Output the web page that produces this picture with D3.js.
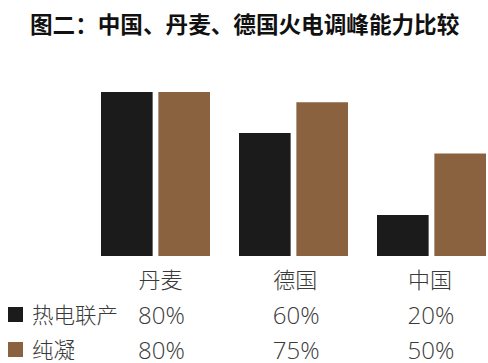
<!DOCTYPE html>
<html><head><meta charset="utf-8">
<script src="https://cdn.jsdelivr.net/npm/d3@7"></script>
<style>body{margin:0;background:#fff}svg{display:block}</style>
</head><body><svg id="c" width="488" height="363"></svg>
<script>
const categories = ["丹麦", "德国", "中国"];
const seriesNames = ["热电联产", "纯凝"];
const chp = [80, 60, 20];
const condensing = [80, 75, 50];
const valueLabels = [["80%", "60%", "20%"], ["80%", "75%", "50%"]];
const titleText = "图二：中国、丹麦、德国火电调峰能力比较";

const colors = ["#1b1b1b", "#8a6240"];
const svg = d3.select("#c");
const cjk = "'Noto Sans CJK SC', 'Noto Sans', sans-serif";

svg.append("text").attr("x", 30).attr("y", 33)
  .attr("font-family", cjk).attr("font-weight", 700).attr("font-size", 22.6)
  .attr("fill", "#111").text(titleText);

const x0 = d3.scaleBand().domain(categories).range([93, 507]).paddingInner(0.0).paddingOuter(0);
const x1 = d3.scaleBand().domain(seriesNames).range([8, 117]).paddingInner(0.1);
const y = d3.scaleLinear().domain([0, 100]).range([256, 51]);
const xCol = d3.scalePoint().domain(categories).range([161.5, 431]);

const series = [chp, condensing];
const g = svg.append("g");
categories.forEach((c, i) => {
  seriesNames.forEach((s, j) => {
    g.append("rect")
      .attr("x", x0(c) + x1(s))
      .attr("y", y(series[j][i]))
      .attr("width", x1.bandwidth())
      .attr("height", y(0) - y(series[j][i]))
      .attr("fill", colors[j]);
  });
});

// category labels
categories.forEach((c) => {
  svg.append("text").attr("x", xCol(c) - 1).attr("y", 288)
    .attr("text-anchor", "middle").attr("font-family", cjk).attr("font-weight", 300)
    .attr("font-size", 22).attr("fill", "#3a3a3a").text(c);
});

// legend-table rows
const rowY = [315, 350];
seriesNames.forEach((s, j) => {
  svg.append("rect").attr("x", 8).attr("y", rowY[j] - 8).attr("width", 15).attr("height", 15).attr("fill", colors[j]);
  svg.append("text").attr("x", 32).attr("y", rowY[j] + 8)
    .attr("font-family", cjk).attr("font-weight", 300).attr("font-size", 21.5)
    .attr("fill", "#3a3a3a").text(s);
  categories.forEach((c, i) => {
    svg.append("text").attr("x", xCol(c)).attr("y", rowY[j] + 9)
      .attr("text-anchor", "middle").attr("font-family", "'Open Sans', Roboto, sans-serif").attr("font-weight", 300)
      .attr("font-size", 24).attr("fill", "#3a3a3a").text(valueLabels[j][i]);
  });
});
</script></body></html>
